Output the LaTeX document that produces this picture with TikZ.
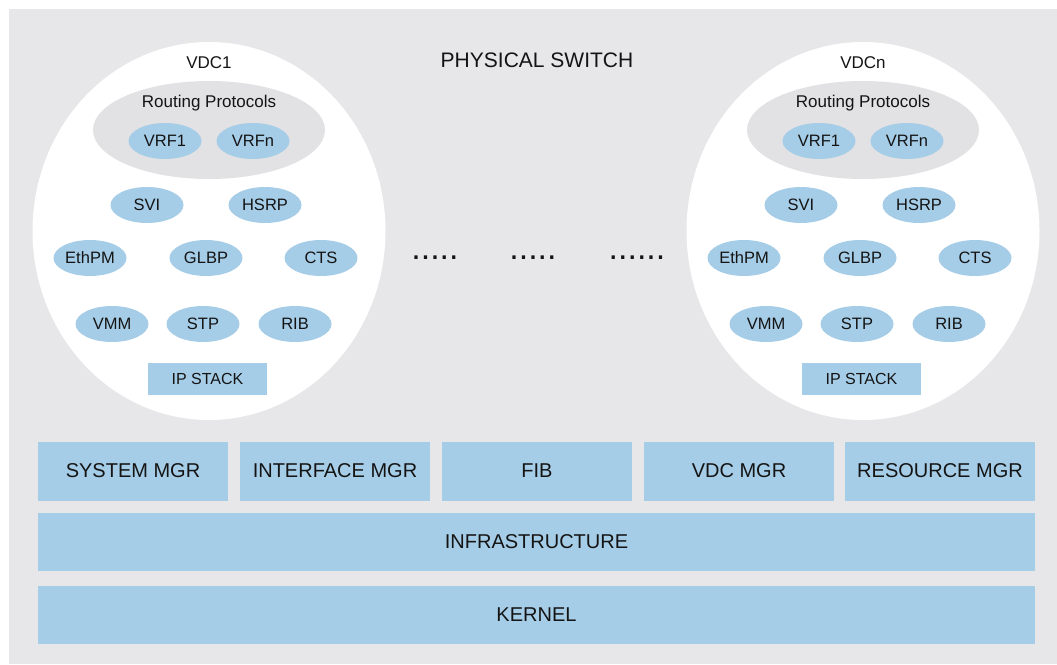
\documentclass[tikz,border=0pt]{standalone}
\usepackage{fontspec}
\setmainfont{Liberation Sans}
\usetikzlibrary{shapes.geometric}
\definecolor{bgray}{HTML}{E7E7E9}
\definecolor{rgray}{HTML}{E2E2E4}
\definecolor{lblue}{HTML}{A6CDE7}
\definecolor{txt}{HTML}{141414}
\tikzset{
  fsz/.style={font=\fontsize{#1}{#1}\selectfont},
  bubble/.style={ellipse, fill=lblue, minimum width=73pt, minimum height=36pt, inner sep=0pt, text=txt, fsz=16.5},
  vdc/.style={ellipse, fill=white, minimum width=353pt, minimum height=378pt, inner sep=0pt},
  rp/.style={ellipse, fill=rgray, minimum width=232pt, minimum height=98pt, inner sep=0pt},
  ipbox/.style={rectangle, fill=lblue, minimum width=119pt, minimum height=32pt, inner sep=0pt, text=txt, fsz=16},
  mgr/.style={rectangle, fill=lblue, minimum width=190pt, minimum height=59pt, inner sep=0pt, text=txt, fsz=20},
  layer/.style={rectangle, fill=lblue, minimum width=997pt, minimum height=58pt, inner sep=0pt, text=txt, fsz=20},
  lbl/.style={text=txt, inner sep=0pt},
  dots/.style={text=txt, inner sep=0pt, fsz=34}
}
\begin{document}
\begin{tikzpicture}[x=1pt,y=-1pt]
\useasboundingbox (0,0) rectangle (1057,664);
\fill[bgray] (9,9) rectangle (1057,664);
\node[lbl, fsz=21] (title) at (537,60) {PHYSICAL SWITCH};

\foreach \dx/\nm/\lab in {0/a/VDC1, 654/b/VDCn}{
  \begin{scope}[xshift=\dx pt]
  \node[vdc] (vdc\nm) at (209,231) {};
  \node[lbl, fsz=17] (vdclab\nm) at (209,63) {\lab};
  \node[rp] (rp\nm) at (209,130) {};
  \node[lbl, fsz=17] (rplab\nm) at (209,103.5) {Routing Protocols};
  \node[bubble] (vrfa\nm) at (165,141) {VRF1};
  \node[bubble] (vrfn\nm) at (253,141) {VRFn};
  \node[bubble] (svi\nm) at (147,205) {SVI};
  \node[bubble] (hsrp\nm) at (265,205) {HSRP};
  \node[bubble] (ethpm\nm) at (90,258) {EthPM};
  \node[bubble] (glbp\nm) at (206,258) {GLBP};
  \node[bubble] (cts\nm) at (321,258) {CTS};
  \node[bubble] (vmm\nm) at (112,324) {VMM};
  \node[bubble] (stp\nm) at (203,324) {STP};
  \node[bubble] (rib\nm) at (295,324) {RIB};
  \node[ipbox] (ip\nm) at (207.5,379) {IP STACK};
  \end{scope}
}

\node[dots] (d1) at (435,258) {.....};
\node[dots] (d2) at (533,258) {.....};
\node[dots] (d3) at (637,258) {......};

\node[mgr] (sys) at (133,471) {SYSTEM MGR};
\node[mgr] (intf) at (335,471) {INTERFACE MGR};
\node[mgr] (fib) at (537,471) {FIB};
\node[mgr] (vdcm) at (739,471) {VDC MGR};
\node[mgr] (res) at (940,471) {RESOURCE MGR};
\node[layer] (infra) at (536.5,542) {INFRASTRUCTURE};
\node[layer] (kern) at (536.5,614.5) {KERNEL};
\end{tikzpicture}
\end{document}
